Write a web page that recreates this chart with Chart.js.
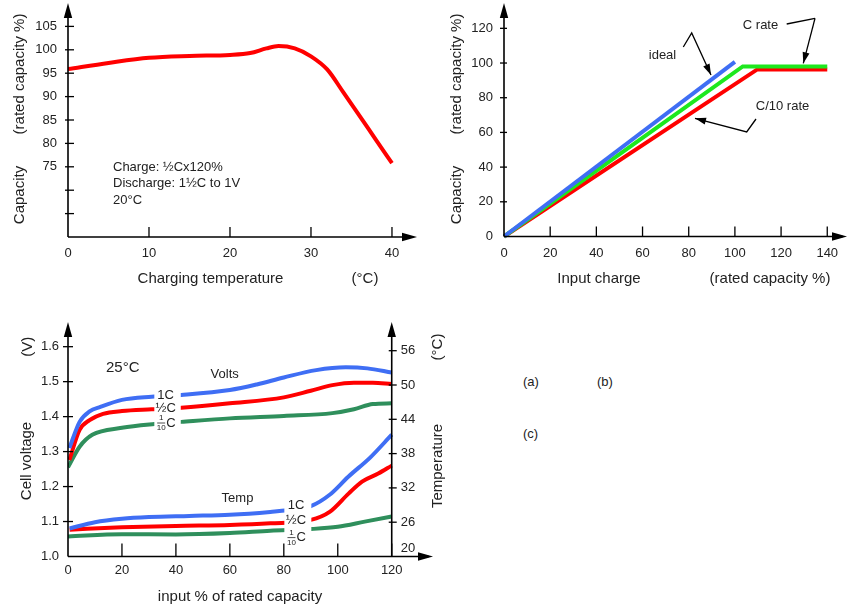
<!DOCTYPE html>
<html><head><meta charset="utf-8">
<script src="https://cdn.jsdelivr.net/npm/chart.js@4.4.1/dist/chart.umd.min.js"></script>
<style>
html,body{margin:0;padding:0;background:#fff;}
body{width:848px;height:608px;position:relative;overflow:hidden;font-family:'Liberation Sans',Arial,Helvetica,sans-serif;color:#222;-webkit-font-smoothing:antialiased;}
canvas{position:absolute;}
.tag{position:absolute;font-size:13px;line-height:16px;color:#222;}
</style></head><body>
<canvas id="ca" width="420" height="300" style="left:0;top:0"></canvas>
<canvas id="cb" width="428" height="300" style="left:420px;top:0"></canvas>
<canvas id="cc" width="450" height="298" style="left:0;top:310px"></canvas>
<div class="tag" style="left:523px;top:374px">(a)</div>
<div class="tag" style="left:597px;top:374px">(b)</div>
<div class="tag" style="left:523px;top:426px">(c)</div>
<script>
// ---------- (a) capacity vs charging temperature ----------
const tempA = [0, 5, 10, 15, 20, 22.5, 24.5, 26, 28, 30, 32, 34, 36, 38, 40];
const capA  = [95.9, 97.2, 98.3, 98.7, 98.9, 99.3, 100.3, 100.8, 100.3, 98.6, 95.8, 90.9, 85.9, 80.8, 75.8];
const xTicksA = [0, 10, 20, 30, 40];
const yTicksA = [65, 70, 75, 80, 85, 90, 95, 100, 105];
const yLabelMinA = 75;

// ---------- (b) capacity vs input charge ----------
const inIdeal = [0, 100];          const capIdeal = [0, 100.7];
const inCrate = [0, 103.4, 140];   const capCrate = [0, 98, 98];
const inC10   = [0, 109.7, 140];   const capC10   = [0, 96.3, 96.3];
const xTicksB = [0, 20, 40, 60, 80, 100, 120, 140];
const yTicksB = [0, 20, 40, 60, 80, 100, 120];

// ---------- (c) cell voltage / temperature vs input ----------
const xV1C  = [0.5, 4.3, 8, 12, 20, 31, 42, 60, 70, 80, 92, 103, 111, 120];
const v1C   = [1.31, 1.385, 1.415, 1.428, 1.448, 1.457, 1.462, 1.476, 1.492, 1.512, 1.533, 1.541, 1.538, 1.526];
const xVHalf= [0.5, 4.3, 8, 13, 20, 31, 42, 60, 80, 90, 98, 106, 113, 120];
const vHalf = [1.276, 1.362, 1.39, 1.408, 1.416, 1.421, 1.4255, 1.438, 1.455, 1.474, 1.49, 1.497, 1.497, 1.493];
const xVTen = [0, 4.3, 9, 20, 32, 42, 60, 80, 98, 106, 113, 120];
const vTen  = [1.255, 1.314, 1.348, 1.368, 1.379, 1.385, 1.395, 1.402, 1.41, 1.421, 1.436, 1.438];
const xT1C  = [0.6, 10, 20, 30, 45, 60, 75, 85, 90, 97, 104, 112, 120];
const t1C   = [24.9, 26.0, 26.6, 26.9, 27.1, 27.3, 27.8, 28.3, 28.8, 30.8, 34.0, 37.3, 41.3];
const xTHalf= [0.6, 20, 40, 60, 75, 90, 97, 104, 109, 115, 120];
const tHalf = [24.7, 25.1, 25.35, 25.5, 25.8, 26.4, 27.8, 31.0, 33.1, 34.5, 35.9];
const xTTen = [0, 20, 40, 60, 75, 90, 100, 110, 120];
const tTen  = [23.5, 23.9, 23.85, 24.1, 24.5, 24.8, 25.2, 26.1, 27.0];
const xTicksC  = [0, 20, 40, 60, 80, 100, 120];
const yTicksC  = [1.0, 1.1, 1.2, 1.3, 1.4, 1.5, 1.6];
const y2TicksC = [20, 26, 32, 38, 44, 50, 56];

const RED = '#ff0000', BLUE = '#3f6ef4', GREEN_B = '#1ee81e', GREEN_C = '#2f8f5c';
const FONT = "'Liberation Sans', Arial, Helvetica, sans-serif";
Chart.defaults.font.family = FONT;
Chart.defaults.font.size = 13;
Chart.defaults.color = '#222';

function pts(xs, ys) { return xs.map((x, i) => ({x: x, y: ys[i]})); }
function text(ctx, s, x, y, size, align, rot) {
  ctx.save(); ctx.font = size + 'px ' + FONT; ctx.fillStyle = '#222';
  ctx.textAlign = align || 'center'; ctx.textBaseline = 'middle';
  ctx.translate(x, y); if (rot) ctx.rotate(rot); ctx.fillText(s, 0, 0); ctx.restore();
}
function seg(ctx, x1, y1, x2, y2) { ctx.beginPath(); ctx.moveTo(x1, y1); ctx.lineTo(x2, y2); ctx.stroke(); }
function head(ctx, x1, y1, x2, y2, len, hw) {
  const a = Math.atan2(y2 - y1, x2 - x1), c = Math.cos(a), s = Math.sin(a);
  ctx.beginPath(); ctx.moveTo(x2, y2);
  ctx.lineTo(x2 - len * c + hw * s, y2 - len * s - hw * c);
  ctx.lineTo(x2 - len * c - hw * s, y2 - len * s + hw * c);
  ctx.closePath(); ctx.fill();
}
function poly(ctx, p) {
  ctx.beginPath(); ctx.moveTo(p[0][0], p[0][1]);
  for (let i = 1; i < p.length; i++) ctx.lineTo(p[i][0], p[i][1]);
  ctx.stroke();
  const n = p.length; head(ctx, p[n-2][0], p[n-2][1], p[n-1][0], p[n-1][1], 11, 3.5);
}
function zeroPad(s) { s.paddingTop = 0; s.paddingBottom = 0; s.paddingLeft = 0; s.paddingRight = 0; }
function axesPlugin(cfg) {
  return { id: 'axes_' + cfg.id, afterDatasetsDraw(chart) {
    const {ctx, chartArea: ca, scales} = chart;
    const xs = scales.x, ys = scales.y;
    ctx.save(); ctx.strokeStyle = '#000'; ctx.fillStyle = '#000'; ctx.lineWidth = 1.6;
    const yb = ca.bottom;
    seg(ctx, ca.left, yb, ca.right - 4, yb); head(ctx, ca.left, yb, ca.right, yb, 15, 4.2);
    cfg.yAxesAt.forEach(v => { const X = xs.getPixelForValue(v);
      seg(ctx, X, yb, X, ca.top + 4); head(ctx, X, yb, X, ca.top, 15, 4.2); });
    ctx.lineWidth = 1.3;
    cfg.xTicks.forEach(v => { if (v === 0) return; const X = xs.getPixelForValue(v); seg(ctx, X, yb, X, yb - cfg.xTickLen); });
    cfg.yTicks.forEach(v => { const Y = ys.getPixelForValue(v); if (Math.abs(Y - yb) < 1) return;
      seg(ctx, ca.left - cfg.yOut, Y, ca.left + cfg.yIn, Y); });
    ctx.restore();
    if (cfg.extra) cfg.extra(chart);
  }};
}
function baseOpts(pad, xMin, xMax, xTicks, yMin, yMax, yTicks, yW, xH, xPad, yPad, yCb) {
  return {
    responsive: false, animation: false, devicePixelRatio: 1,
    layout: {padding: pad},
    plugins: {legend: {display: false}, tooltip: {enabled: false}},
    elements: {point: {radius: 0}},
    scales: {
      x: {type: 'linear', min: xMin, max: xMax, grid: {display: false, drawTicks: false}, border: {display: false},
          afterBuildTicks: s => { s.ticks = xTicks.map(v => ({value: v})); },
          afterFit: s => { s.height = xH; zeroPad(s); },
          ticks: {padding: xPad, autoSkip: false, maxRotation: 0, color: '#222'}},
      y: {type: 'linear', min: yMin, max: yMax, grid: {display: false, drawTicks: false}, border: {display: false},
          afterBuildTicks: s => { s.ticks = yTicks.map(v => ({value: v})); },
          afterFit: s => { s.width = yW; zeroPad(s); },
          ticks: {padding: yPad, autoSkip: false, color: '#222', callback: yCb || (v => v)}}
    }
  };
}

// ---------- chart (a) ----------
new Chart(document.getElementById('ca'), {
  type: 'line',
  data: {datasets: [{data: pts(tempA, capA), borderColor: RED, borderWidth: 4, cubicInterpolationMode: 'monotone', fill: false}]},
  options: baseOpts({top: 3, right: 3, left: 0, bottom: 0}, 0, 43.09, xTicksA, 60, 110, yTicksA, 68, 63, 9, 11,
                    v => v >= yLabelMinA ? String(v) : ''),
  plugins: [axesPlugin({id: 'a', yAxesAt: [0], xTicks: xTicksA, yTicks: yTicksA, xTickLen: 10, yOut: 3, yIn: 6,
    extra(chart) {
      const ctx = chart.ctx;
      text(ctx, 'Capacity', 19.5, 195, 15, 'center', -Math.PI / 2);
      text(ctx, '(rated capacity %)', 19.5, 74, 15, 'center', -Math.PI / 2);
      text(ctx, 'Charging temperature', 210.5, 279, 15);
      text(ctx, '(°C)', 365, 279, 15);
      text(ctx, 'Charge: ½Cx120%', 113, 167, 13, 'left');
      text(ctx, 'Discharge: 1½C to 1V', 113, 183.5, 13, 'left');
      text(ctx, '20°C', 113, 200, 13, 'left');
    }})]
});

// ---------- chart (b) ----------
new Chart(document.getElementById('cb'), {
  type: 'line',
  data: {datasets: [
    {data: pts(inIdeal, capIdeal), borderColor: BLUE, borderWidth: 4, tension: 0, fill: false, clip: false},
    {data: pts(inCrate, capCrate), borderColor: GREEN_B, borderWidth: 4, tension: 0, fill: false, clip: false},
    {data: pts(inC10, capC10), borderColor: RED, borderWidth: 4, tension: 0, fill: false, clip: false}
  ]},
  options: baseOpts({top: 3, right: 1, left: 0, bottom: 0}, 0, 148.55, xTicksB, 0, 134.6, yTicksB, 84, 63.5, 9, 11),
  plugins: [axesPlugin({id: 'b', yAxesAt: [0], xTicks: xTicksB, yTicks: yTicksB, xTickLen: 10, yOut: 4, yIn: 3,
    extra(chart) {
      const ctx = chart.ctx;
      text(ctx, 'Capacity', 36.7, 195, 15, 'center', -Math.PI / 2);
      text(ctx, '(rated capacity %)', 36.7, 74, 15, 'center', -Math.PI / 2);
      text(ctx, 'Input charge', 179, 279, 15);
      text(ctx, '(rated capacity %)', 350, 279, 15);
      text(ctx, 'ideal', 242.5, 55, 13);
      text(ctx, 'C rate', 340.5, 25, 13);
      text(ctx, 'C/10 rate', 362.5, 106, 13);
      ctx.save(); ctx.strokeStyle = '#000'; ctx.fillStyle = '#000'; ctx.lineWidth = 1.3;
      poly(ctx, [[263.3, 47], [271.7, 33], [291, 75]]);
      seg(ctx, 366.7, 24, 395, 18.3);
      poly(ctx, [[395, 18.3], [383.3, 63.3]]);
      poly(ctx, [[336, 119], [326.7, 132], [275, 118.3]]);
      ctx.restore();
    }})]
});

// ---------- chart (c) ----------
function frac(ctx, cx, cy) {
  ctx.save(); ctx.fillStyle = '#222'; ctx.strokeStyle = '#222'; ctx.lineWidth = 0.8;
  ctx.textBaseline = 'middle'; ctx.textAlign = 'center';
  ctx.font = '8px ' + FONT;
  const fx = cx - 4.5;
  ctx.fillText('1', fx, cy - 4.5); ctx.fillText('10', fx, cy + 5);
  seg(ctx, fx - 4, cy + 0.3, fx + 4, cy + 0.3);
  ctx.font = '13px ' + FONT; ctx.textAlign = 'left'; ctx.fillText('C', cx + 0.5, cy + 0.5);
  ctx.restore();
}
const optsC = baseOpts({top: 12, right: 17, left: 0, bottom: 0}, 0, 135.3, xTicksC, 1.0, 1.6706, yTicksC, 68, 51.5, 6, 9,
                       v => v.toFixed(1));
optsC.scales.y2 = {type: 'linear', display: false, min: 20, max: 61.02};
new Chart(document.getElementById('cc'), {
  type: 'line',
  data: {datasets: [
    {data: pts(xV1C, v1C), yAxisID: 'y', borderColor: BLUE, borderWidth: 4, cubicInterpolationMode: 'monotone', fill: false},
    {data: pts(xVHalf, vHalf), yAxisID: 'y', borderColor: RED, borderWidth: 4, cubicInterpolationMode: 'monotone', fill: false},
    {data: pts(xVTen, vTen), yAxisID: 'y', borderColor: GREEN_C, borderWidth: 4, cubicInterpolationMode: 'monotone', fill: false},
    {data: pts(xT1C, t1C), yAxisID: 'y2', borderColor: BLUE, borderWidth: 4, cubicInterpolationMode: 'monotone', fill: false},
    {data: pts(xTHalf, tHalf), yAxisID: 'y2', borderColor: RED, borderWidth: 4, cubicInterpolationMode: 'monotone', fill: false},
    {data: pts(xTTen, tTen), yAxisID: 'y2', borderColor: GREEN_C, borderWidth: 4, cubicInterpolationMode: 'monotone', fill: false}
  ]},
  options: optsC,
  plugins: [axesPlugin({id: 'c', yAxesAt: [0, 120], xTicks: xTicksC, yTicks: yTicksC, xTickLen: 13, yOut: 5, yIn: 5,
    extra(chart) {
      const {ctx, scales: {x, y, y2}} = chart;
      const XR = x.getPixelForValue(120);
      ctx.save(); ctx.strokeStyle = '#000'; ctx.lineWidth = 1.3;
      y2TicksC.forEach(v => { const Y = y2.getPixelForValue(v);
        if (v > 20) seg(ctx, XR - 3, Y, XR + 5, Y);
        text(ctx, String(v), XR + 9, v === 20 ? Y - 8 : Y, 13, 'left'); });
      ctx.restore();
      // label knock-outs
      ctx.save(); ctx.fillStyle = '#fff';
      const xa = x.getPixelForValue(32), xb = x.getPixelForValue(41.8);
      ctx.fillRect(xa, 78, xb - xa, 44);
      const xc = x.getPixelForValue(80.2), xd = x.getPixelForValue(90.2);
      ctx.fillRect(xc, 187, xd - xc, 46);
      ctx.restore();
      const lx1 = x.getPixelForValue(36.2), lx2 = x.getPixelForValue(84.5);
      text(ctx, '1C', lx1, 85, 13); text(ctx, '½C', lx1, 98.3, 13); frac(ctx, lx1, 112.7);
      text(ctx, '1C', lx2, 195, 13); text(ctx, '½C', lx2, 210, 13); frac(ctx, lx2, 227.3);
      text(ctx, '(V)', 27.5, 36.7, 15, 'center', -Math.PI / 2);
      text(ctx, 'Cell voltage', 27, 151, 15, 'center', -Math.PI / 2);
      text(ctx, '(°C)', 438.3, 37, 15, 'center', -Math.PI / 2);
      text(ctx, 'Temperature', 438, 156, 15, 'center', -Math.PI / 2);
      text(ctx, 'input % of rated capacity', 240, 287.3, 15);
      text(ctx, '25°C', 106, 58.3, 15, 'left');
      text(ctx, 'Volts', 224.7, 64, 13);
      text(ctx, 'Temp', 237.5, 188, 13);
    }})]
});
</script>
</body></html>
